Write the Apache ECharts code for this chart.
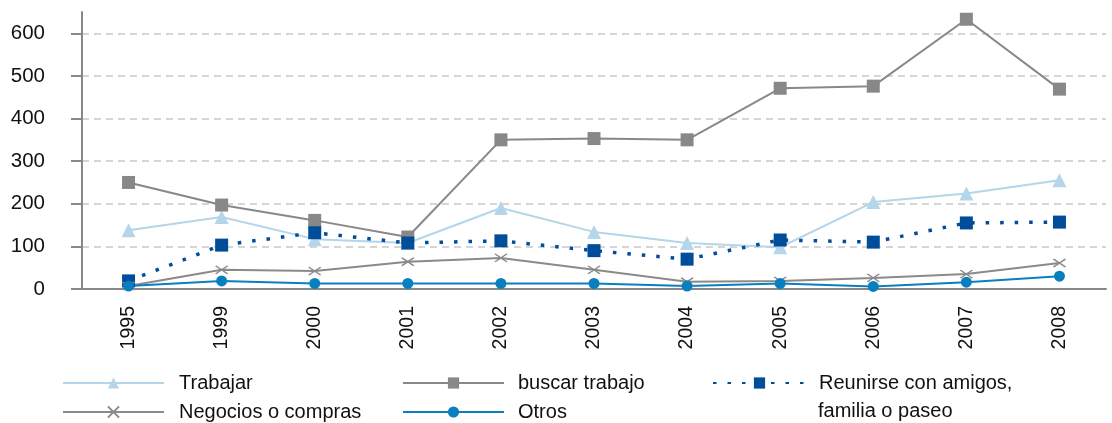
<!DOCTYPE html>
<html>
<head>
<meta charset="utf-8">
<script src="https://cdn.jsdelivr.net/npm/echarts@6/dist/echarts.min.js"></script>
<style>
  html, body { margin: 0; padding: 0; background: #fff; }
  #main { width: 1112px; height: 423px; }
</style>
</head>
<body>
<div id="main"></div>
<script>
var years = ['1995', '1999', '2000', '2001', '2002', '2003', '2004', '2005', '2006', '2007', '2008'];
var trabajar = [138, 169, 117, 108, 190, 134, 108, 98, 204, 224, 255];
var buscarTrabajo = [250, 197, 161, 122, 350, 353, 350, 471, 476, 633, 469];
var reunirse = [19, 103, 132, 108, 113, 90, 70, 115, 110, 155, 157];
var negocios = [7, 45, 42, 64, 73, 45, 17, 19, 26, 35, 61];
var otros = [7, 19, 13, 13, 13, 13, 7, 13, 6, 16, 30];
var yTicks = [0, 100, 200, 300, 400, 500, 600];

document.addEventListener('DOMContentLoaded', function() {
  var myChart = echarts.init(document.getElementById('main'));
  var font = 'Liberation Sans, Arial, sans-serif';
  var crossPath = 'path://M0,0L12,8M12,0L0,8';
  var reunirseName = 'Reunirse con amigos,\nfamilia o paseo';

  function legendText(gap) {
    return { fontSize: 20, color: '#111', fontFamily: font, padding: [0, 0, 0, gap] };
  }

  var option = {
    animation: false,
    textStyle: { fontFamily: font },
    grid: { left: 82, right: 6, top: 12, bottom: 134 },
    legend: [
      {
        data: ['Trabajar', 'Negocios o compras'],
        orient: 'vertical', left: 62, top: 373, height: 120, padding: 0,
        itemWidth: 101, itemHeight: 14, itemGap: 9,
        textStyle: legendText(10)
      },
      {
        data: ['buscar trabajo', 'Otros'],
        orient: 'vertical', left: 402, top: 373, height: 120, padding: 0,
        itemWidth: 101, itemHeight: 14, itemGap: 9,
        textStyle: legendText(9)
      },
      {
        data: [reunirseName],
        orient: 'vertical', left: 712, top: 373, height: 120, padding: 0,
        itemWidth: 93, itemHeight: 14,
        formatter: function () { return 'Reunirse con amigos,'; },
        textStyle: legendText(8)
      }
    ],
    graphic: [
      {
        type: 'text', left: 818, top: 401,
        style: { text: 'familia o paseo', font: '20px ' + font, fill: '#111' }
      }
    ],
    xAxis: {
      type: 'category',
      data: years,
      boundaryGap: true,
      axisLine: { lineStyle: { color: '#888', width: 2 } },
      axisTick: { length: 6, lineStyle: { color: '#888', width: 2 } },
      axisLabel: { rotate: 90, margin: 17, fontSize: 19.5, color: '#111' }
    },
    yAxis: {
      type: 'value',
      min: 0, max: 650, interval: 100,
      axisLine: { show: true, lineStyle: { color: '#888', width: 2 } },
      axisTick: { show: true, length: 11, customValues: yTicks, lineStyle: { color: '#888', width: 2 } },
      axisLabel: { margin: 37, fontSize: 20.5, color: '#111', customValues: yTicks },
      splitLine: { show: true, lineStyle: { color: '#c8c8c8', type: [7, 5], width: 1.5 } }
    },
    series: [
      {
        name: 'Trabajar', type: 'line', data: trabajar,
        symbol: 'triangle', symbolSize: 14,
        lineStyle: { color: '#b4d5ea', width: 2 },
        itemStyle: { color: '#b4d5ea' }
      },
      {
        name: 'buscar trabajo', type: 'line', data: buscarTrabajo,
        symbol: 'rect', symbolSize: 13,
        lineStyle: { color: '#888', width: 2 },
        itemStyle: { color: '#888' }
      },
      {
        name: reunirseName, type: 'line', data: reunirse,
        symbol: 'rect', symbolSize: 13,
        lineStyle: { color: '#004d99', width: 3.5, type: [3.5, 11] },
        itemStyle: { color: '#004d99' }
      },
      {
        name: 'Negocios o compras', type: 'line', data: negocios,
        symbol: crossPath, symbolSize: [12, 8],
        lineStyle: { color: '#8a8a8a', width: 2 },
        itemStyle: { color: 'none', borderColor: '#8a8a8a', borderWidth: 1.5 }
      },
      {
        name: 'Otros', type: 'line', data: otros,
        symbol: 'circle', symbolSize: 11,
        lineStyle: { color: '#0a7fc0', width: 2 },
        itemStyle: { color: '#0a7fc0' }
      }
    ]
  };

  myChart.setOption(option);
});
</script>
</body>
</html>
